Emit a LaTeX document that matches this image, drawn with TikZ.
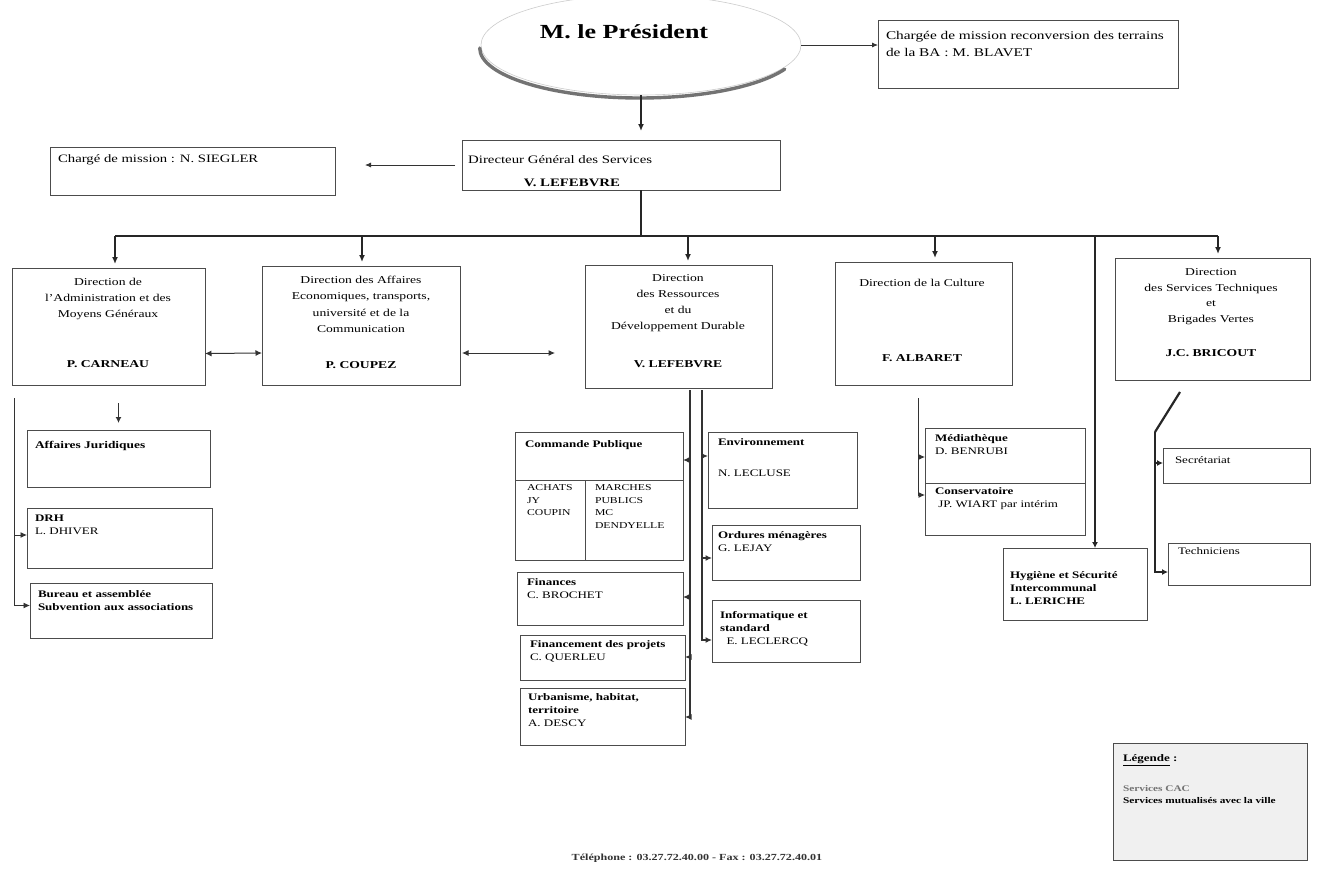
\documentclass[tikz,border=0pt]{standalone}
\usepackage{fontspec}
\setmainfont{Liberation Serif}[FakeStretch=1.3]
\usetikzlibrary{arrows.meta,shapes.geometric,calc}
\newcommand\mkbox[6][]{\node[bx,#1,minimum width={#5-#3},minimum height={#6-#4}] (#2) at ({(#3+#5)/2},{(#4+#6)/2}) {};}
\begin{document}
\begin{tikzpicture}[x=1pt,y=-1pt,
 bx/.style={draw=black!70, line width=1pt, inner sep=0pt, outer sep=0pt, fill=white},
 tx/.style={inner sep=0pt, outer sep=0pt, font=\fontsize{10.5}{16.3}\selectfont, align=center, anchor=north},
 st/.style={inner sep=0pt, outer sep=0pt, font=\fontsize{10}{13}\selectfont, align=left, anchor=north west},
 ln/.style={draw=black!80, line width=1pt},
 arr/.style={ln, -{Latex[length=6.5pt,width=6pt]}},
 bus/.style={draw=black!85, line width=2.4pt},
 barr/.style={bus, -{Latex[length=7pt,width=6pt]}, shorten >=4pt},
]
\useasboundingbox[fill=white] (0,0) rectangle (1319,873);

% ---------- top ----------
\node[ellipse, draw=black!20, line width=0.6pt, minimum width=320, minimum height=100, inner sep=0pt] (pres) at (641,45) {};
\draw[line width=3.4pt, black!55, line cap=round] ($(pres.west)+(-1,3)$) arc[start angle=180, end angle=25, x radius=160, y radius=50];
\node[inner sep=0pt, font=\bfseries\fontsize{20}{24}\selectfont] at (624,32) {M. le Président};

\mkbox{blavet}{878}{20}{1178}{88}
\node[st, font=\fontsize{11.8}{17}\selectfont] at (886,31) {Chargée de mission reconversion des terrains\\de la BA : M. BLAVET};
\draw[ln, line width=0.8pt, -{Latex[length=6pt,width=5pt]}] (pres.east) -- (pres.east -| blavet.west);

\mkbox{dgs}{462}{140}{780}{190}
\node[inner sep=0pt, anchor=base west, font=\fontsize{11.4}{14}\selectfont] at (468,163) {Directeur Général des Services};
\node[inner sep=0pt, anchor=base, font=\bfseries\fontsize{11.4}{14}\selectfont] at (572,186) {V. LEFEBVRE};
\draw[bus, line width=1.8pt, -{Latex[length=7pt,width=6pt]}, shorten >=9pt] (pres.south) -- (pres.south |- dgs.north);

\mkbox{siegler}{50}{147}{335}{195}
\node[inner sep=0pt, anchor=base west, font=\fontsize{11.3}{14}\selectfont] at (58,162) {Chargé de mission : N. SIEGLER};
\draw[ln, line width=0.8pt, -{Latex[length=6pt,width=5pt]}, shorten <=7pt, shorten >=30pt] (dgs.west) -- (dgs.west -| siegler.east);

% ---------- bus ----------
\coordinate (busL) at (115,236);
\coordinate (busR) at (1218,236);
\coordinate (bus) at (641,236);
\coordinate (d2) at (362,236);
\coordinate (d3) at (688,236);
\coordinate (d4) at (935,236);
\coordinate (d5) at (1095,236);
\draw[bus] (dgs.south -| pres.south) -- (bus);
\draw[bus] (busL) -- (busR);

% ---------- directions ----------
\mkbox{b1}{12}{268}{205}{385}
\node[tx] at (108,278) {Direction de\\l'Administration et des\\Moyens Généraux};
\node[inner sep=0pt, anchor=base, font=\bfseries\fontsize{10.5}{13}\selectfont] at (108,367) {P. CARNEAU};

\mkbox{b2}{262}{266}{460}{385}
\node[tx] at (361,276) {Direction des Affaires\\Economiques, transports,\\université et de la\\Communication};
\node[inner sep=0pt, anchor=base, font=\bfseries\fontsize{10.5}{13}\selectfont] at (361,368) {P. COUPEZ};

\mkbox{b3}{585}{265}{772}{388}
\node[tx, font=\fontsize{10.5}{16}\selectfont] at (678,275) {Direction\\des Ressources\\et du\\Développement Durable};
\node[inner sep=0pt, anchor=base, font=\bfseries\fontsize{10.5}{13}\selectfont] at (678,367) {V. LEFEBVRE};

\mkbox{b4}{835}{262}{1012}{385}
\node[inner sep=0pt, anchor=base, font=\fontsize{10.5}{13}\selectfont] at (922,286) {Direction de la Culture};
\node[inner sep=0pt, anchor=base, font=\bfseries\fontsize{10.5}{13}\selectfont] at (922,361) {F. ALBARET};

\mkbox{b6}{1115}{258}{1310}{380}
\node[tx, font=\fontsize{10.5}{15.5}\selectfont] at (1211,269) {Direction\\des Services Techniques\\et\\Brigades Vertes};
\node[inner sep=0pt, anchor=base, font=\bfseries\fontsize{10.5}{13}\selectfont] at (1211,356) {J.C. BRICOUT};

\draw[barr] (busL) -- (busL |- b1.north);
\draw[barr] (d2) -- (d2 |- b2.north);
\draw[barr] (d3) -- (d3 |- b3.north);
\draw[barr] (d4) -- (d4 |- b4.north);
\draw[barr] (busR) -- (busR |- b6.north);

\draw[ln, {Latex[length=6.5pt,width=6pt]}-{Latex[length=6.5pt,width=6pt]}] ($(b1.east)+(0,27)$) -- ($(b2.west)+(0,27.5)$);
\draw[ln, {Latex[length=6.5pt,width=6pt]}-{Latex[length=6.5pt,width=6pt]}] ($(b2.east)+(2,27.5)$) -- ($(b3.west)+(-30,26.5)$);

% ---------- administration ----------
\mkbox{aj}{27}{430}{210}{487}
\node[st, font=\bfseries\fontsize{10.3}{13}\selectfont] at (35,441) {Affaires Juridiques};
\draw[ln, line width=1.6pt, -{Latex[length=6pt,width=6pt]}, shorten >=7pt] ($(aj.north)+(0,-27)$) -- (aj.north);

\mkbox{drh}{27}{508}{212}{568}
\node[st] at (35,515) {\textbf{DRH}\\L. DHIVER};
\mkbox{bur}{30}{583}{212}{638}
\node[st, font=\bfseries\fontsize{10}{13}\selectfont] at (38,591) {Bureau et assemblée\\Subvention aux associations};

\coordinate (L1) at (14,398);
\draw[arr, line width=0.9pt] (L1) |- ($(drh.west)+(0,-3)$);
\draw[arr, line width=0.9pt] (L1) |- ($(bur.west)+(0,-5)$);

% ---------- ressources ----------
\mkbox{cp}{515}{432}{683}{560}
\draw[draw=black!70, line width=1pt] ($(cp.north west)+(0,48)$) -- ($(cp.north east)+(0,48)$);
\draw[draw=black!70, line width=1pt] ($(cp.north west)+(70,48)$) -- ($(cp.south west)+(70,0)$);
\node[st, font=\bfseries\fontsize{10}{13}\selectfont] at (525,441) {Commande Publique};
\node[st, font=\fontsize{9}{12.5}\selectfont] at (527,485) {ACHATS\\JY\\COUPIN};
\node[st, font=\fontsize{9}{12.5}\selectfont] at (595,485) {MARCHES\\PUBLICS\\MC\\DENDYELLE};

\mkbox{fin}{517}{572}{683}{625}
\node[st] at (527,579) {\textbf{Finances}\\C. BROCHET};
\mkbox{fpr}{520}{635}{685}{680}
\node[st] at (530,641) {\textbf{Financement des projets}\\C. QUERLEU};
\mkbox{urb}{520}{688}{685}{745}
\node[st] at (528,694) {\textbf{Urbanisme, habitat,}\\\textbf{territoire}\\A. DESCY};

\mkbox{env}{708}{432}{857}{508}
\node[st, font=\bfseries\fontsize{10}{13}\selectfont] at (718,439) {Environnement};
\node[st] at (718,470) {N. LECLUSE};
\mkbox{ord}{712}{525}{860}{580}
\node[st] at (718,532) {\textbf{Ordures ménagères}\\G. LEJAY};
\mkbox{inf}{712}{600}{860}{662}
\node[st] at (720,611) {\textbf{Informatique et}\\\textbf{standard}\\\ \ E. LECLERCQ};

\coordinate (ML) at (690,390);
\coordinate (MR) at (702,390);
\draw[arr, line width=1.3pt] (ML) |- ($(cp.north east)+(0,28)$);
\draw[arr, line width=1.3pt] (ML) |- ($(fin.north east)+(0,25)$);
\draw[arr, line width=1.3pt] (ML) |- ($(fpr.north east)+(0,22)$);
\draw[arr, line width=1.3pt] (ML) |- ($(urb.north east)+(0,29)$);
\draw[arr, line width=1.3pt] (MR) |- ($(env.north west)+(0,24)$);
\draw[arr, line width=1.3pt] (MR) |- ($(ord.north west)+(0,33)$);
\draw[arr, line width=1.3pt] (MR) |- ($(inf.north west)+(0,40)$);

% ---------- culture ----------
\mkbox{cult}{925}{428}{1085}{535}
\draw[draw=black!70, line width=1pt] ($(cult.north west)+(0,55)$) -- ($(cult.north east)+(0,55)$);
\node[st] at (935,435) {\textbf{Médiathèque}\\D. BENRUBI};
\node[st] at (935,488) {\textbf{Conservatoire}\\\ JP. WIART par intérim};
\coordinate (C1) at (918,398);
\draw[arr, line width=0.9pt] (C1) |- ($(cult.north west)+(0,29)$);
\draw[arr, line width=0.9pt] (C1) |- ($(cult.north west)+(0,67)$);

% ---------- hygiene ----------
\mkbox{hyg}{1003}{548}{1147}{620}
\node[st, font=\bfseries\fontsize{10}{13}\selectfont] at (1010,572) {Hygiène et Sécurité\\Intercommunal\\L. LERICHE};
\draw[bus, line width=2pt, -{Latex[length=6pt,width=6pt]}] (d5) -- (d5 |- hyg.north);

% ---------- technique ----------
\mkbox{sec}{1163}{448}{1310}{483}
\node[st, font=\fontsize{10}{13}\selectfont] at (1175,457) {Secrétariat};
\mkbox{tec}{1168}{543}{1310}{585}
\node[st, font=\fontsize{10}{13}\selectfont] at (1178,548) {Techniciens};
\coordinate (T1) at (1180,392);
\coordinate (T2) at (1155,432);
\draw[bus, line width=2.2pt] (T1) -- (T2);
\draw[bus, line width=2.2pt, -{Latex[length=6pt,width=6pt]}] (T2) |- ($(sec.north west)+(0,15)$);
\draw[bus, line width=2.2pt, -{Latex[length=6pt,width=6pt]}] (T2) |- ($(tec.north west)+(0,29)$);

% ---------- legend ----------
\mkbox[fill=black!6]{leg}{1113}{743}{1307}{860}
\node[st, font=\bfseries\fontsize{10}{13}\selectfont] at (1123,755) {\underline{Légende} :};
\node[st, font=\bfseries\fontsize{8.7}{12.5}\selectfont] at (1123,785) {\textcolor{black!55}{Services CAC}\\Services mutualisés avec la ville};

% ---------- footer ----------
\node[inner sep=0pt, font=\bfseries\fontsize{9.3}{11}\selectfont, text=black!80] (foot) at (697,858) {Téléphone : 03.27.72.40.00 - Fax : 03.27.72.40.01};
\end{tikzpicture}
\end{document}
